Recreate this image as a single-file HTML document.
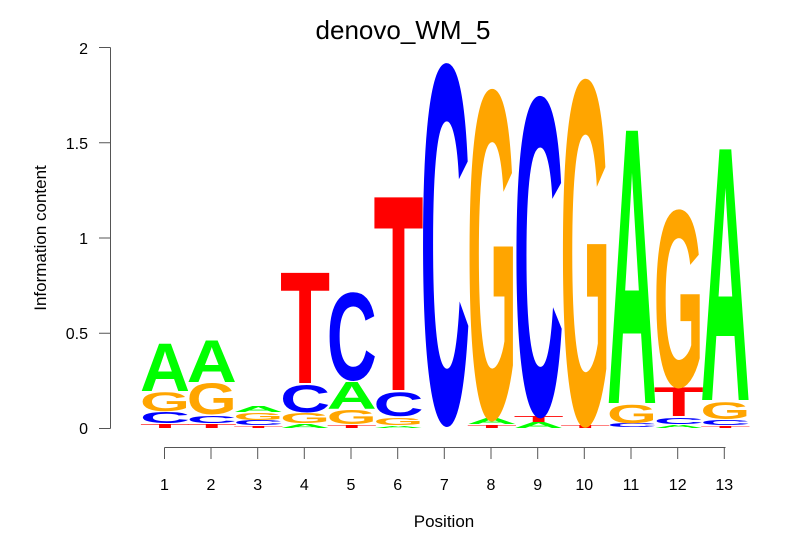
<!DOCTYPE html>
<html><head><meta charset="utf-8"><style>
html,body{margin:0;padding:0;background:#fff}
svg{display:block}
text{font-family:"Liberation Sans",sans-serif}
.L{font-weight:bold;font-size:100px}
</style></head><body>
<svg width="806" height="559" viewBox="0 0 806 559" xmlns="http://www.w3.org/2000/svg">
<text x="403" y="39" font-size="26" text-anchor="middle">denovo_WM_5</text>
<g stroke="#555" stroke-width="1" fill="none">
<path d="M110.5 47.5V428.5M99 47.5H110.5M99 142.7H110.5M99 238H110.5M99 333.2H110.5M99 428.5H110.5"/>
<path d="M164.5 447.5H725.5M164.5 447.5V459M211 447.5V459M257.7 447.5V459M304.3 447.5V459M351 447.5V459M397.7 447.5V459M444.3 447.5V459M491 447.5V459M537.7 447.5V459M584.3 447.5V459M631 447.5V459M677.7 447.5V459M724.3 447.5V459"/>
</g>
<g font-size="16" text-anchor="end">
<text x="88" y="54">2</text><text x="88" y="149">1.5</text><text x="88" y="244">1</text><text x="88" y="339">0.5</text><text x="88" y="434">0</text>
</g>
<text transform="translate(46,238) rotate(-90)" font-size="17" text-anchor="middle">Information content</text>
<g font-size="16" text-anchor="middle">
<text x="164.5" y="490">1</text><text x="211" y="490">2</text><text x="257.7" y="490">3</text><text x="304.3" y="490">4</text><text x="351" y="490">5</text><text x="397.7" y="490">6</text><text x="444.3" y="490">7</text><text x="491" y="490">8</text><text x="537.7" y="490">9</text><text x="584.3" y="490">10</text><text x="631" y="490">11</text><text x="677.7" y="490">12</text><text x="724.3" y="490">13</text>
</g>
<text x="444" y="527" font-size="17" text-anchor="middle">Position</text>
<g class="L">
<text fill="#f00" textLength="50" lengthAdjust="spacingAndGlyphs" transform="translate(140,428) scale(1,0.057)">T</text>
<text fill="#00f" textLength="50" lengthAdjust="spacingAndGlyphs" transform="translate(140,423) scale(1,0.157)">C</text>
<text fill="#ffa500" textLength="50" lengthAdjust="spacingAndGlyphs" transform="translate(140,411) scale(1,0.271)">G</text>
<text fill="#0f0" textLength="50" lengthAdjust="spacingAndGlyphs" transform="translate(140,391) scale(1,0.686)">A</text>
<text fill="#f00" textLength="50" lengthAdjust="spacingAndGlyphs" transform="translate(186.7,428) scale(1,0.057)">T</text>
<text fill="#00f" textLength="50" lengthAdjust="spacingAndGlyphs" transform="translate(186.7,423) scale(1,0.1)">C</text>
<text fill="#ffa500" textLength="50" lengthAdjust="spacingAndGlyphs" transform="translate(186.7,414) scale(1,0.443)">G</text>
<text fill="#0f0" textLength="50" lengthAdjust="spacingAndGlyphs" transform="translate(186.7,382) scale(1,0.6)">A</text>
<text fill="#f00" textLength="50" lengthAdjust="spacingAndGlyphs" transform="translate(233.4,428) scale(1,0.029)">T</text>
<text fill="#00f" textLength="50" lengthAdjust="spacingAndGlyphs" transform="translate(233.4,425) scale(1,0.071)">C</text>
<text fill="#ffa500" textLength="50" lengthAdjust="spacingAndGlyphs" transform="translate(233.4,420) scale(1,0.1)">G</text>
<text fill="#0f0" textLength="50" lengthAdjust="spacingAndGlyphs" transform="translate(233.4,412) scale(1,0.086)">A</text>
<text fill="#0f0" textLength="50" lengthAdjust="spacingAndGlyphs" transform="translate(280.1,428) scale(1,0.057)">A</text>
<text fill="#ffa500" textLength="50" lengthAdjust="spacingAndGlyphs" transform="translate(280.1,423) scale(1,0.143)">G</text>
<text fill="#00f" textLength="50" lengthAdjust="spacingAndGlyphs" transform="translate(280.1,412) scale(1,0.386)">C</text>
<text fill="#f00" textLength="50" lengthAdjust="spacingAndGlyphs" transform="translate(280.1,383) scale(1,1.6)">T</text>
<text fill="#f00" textLength="50" lengthAdjust="spacingAndGlyphs" transform="translate(326.8,428) scale(1,0.043)">T</text>
<text fill="#ffa500" textLength="50" lengthAdjust="spacingAndGlyphs" transform="translate(326.8,424) scale(1,0.2)">G</text>
<text fill="#0f0" textLength="50" lengthAdjust="spacingAndGlyphs" transform="translate(326.8,409) scale(1,0.386)">A</text>
<text fill="#00f" textLength="50" lengthAdjust="spacingAndGlyphs" transform="translate(326.8,380) scale(1,1.257)">C</text>
<text fill="#0f0" textLength="50" lengthAdjust="spacingAndGlyphs" transform="translate(373.5,428) scale(1,0.029)">A</text>
<text fill="#ffa500" textLength="50" lengthAdjust="spacingAndGlyphs" transform="translate(373.5,425) scale(1,0.1)">G</text>
<text fill="#00f" textLength="50" lengthAdjust="spacingAndGlyphs" transform="translate(373.5,416) scale(1,0.343)">C</text>
<text fill="#f00" textLength="50" lengthAdjust="spacingAndGlyphs" transform="translate(373.5,390) scale(1,2.8)">T</text>
<text fill="#00f" textLength="50" lengthAdjust="spacingAndGlyphs" transform="translate(420.2,422) scale(1,5.14)">C</text>
<text fill="#f00" textLength="50" lengthAdjust="spacingAndGlyphs" transform="translate(466.9,428) scale(1,0.043)">T</text>
<text fill="#0f0" textLength="50" lengthAdjust="spacingAndGlyphs" transform="translate(466.9,424) scale(1,0.086)">A</text>
<text fill="#ffa500" textLength="50" lengthAdjust="spacingAndGlyphs" transform="translate(466.9,417) scale(1,4.7)">G</text>
<text fill="#0f0" textLength="50" lengthAdjust="spacingAndGlyphs" transform="translate(513.6,428) scale(1,0.086)">A</text>
<text fill="#f00" textLength="50" lengthAdjust="spacingAndGlyphs" transform="translate(513.6,422) scale(1,0.086)">T</text>
<text fill="#00f" textLength="50" lengthAdjust="spacingAndGlyphs" transform="translate(513.6,414) scale(1,4.557)">C</text>
<text fill="#f00" textLength="50" lengthAdjust="spacingAndGlyphs" transform="translate(560.3,428) scale(1,0.043)">T</text>
<text fill="#ffa500" textLength="50" lengthAdjust="spacingAndGlyphs" transform="translate(560.3,423) scale(1,4.93)">G</text>
<text fill="#00f" textLength="50" lengthAdjust="spacingAndGlyphs" transform="translate(607,427) scale(1,0.057)">C</text>
<text fill="#ffa500" textLength="50" lengthAdjust="spacingAndGlyphs" transform="translate(607,423) scale(1,0.257)">G</text>
<text fill="#0f0" textLength="50" lengthAdjust="spacingAndGlyphs" transform="translate(607,403) scale(1,3.957)">A</text>
<text fill="#0f0" textLength="50" lengthAdjust="spacingAndGlyphs" transform="translate(653.7,428) scale(1,0.043)">A</text>
<text fill="#00f" textLength="50" lengthAdjust="spacingAndGlyphs" transform="translate(653.7,424) scale(1,0.086)">C</text>
<text fill="#f00" textLength="50" lengthAdjust="spacingAndGlyphs" transform="translate(653.7,416) scale(1,0.414)">T</text>
<text fill="#ffa500" textLength="50" lengthAdjust="spacingAndGlyphs" transform="translate(653.7,386) scale(1,2.529)">G</text>
<text fill="#f00" textLength="50" lengthAdjust="spacingAndGlyphs" transform="translate(700.4,428) scale(1,0.029)">T</text>
<text fill="#00f" textLength="50" lengthAdjust="spacingAndGlyphs" transform="translate(700.4,425) scale(1,0.071)">C</text>
<text fill="#ffa500" textLength="50" lengthAdjust="spacingAndGlyphs" transform="translate(700.4,419) scale(1,0.243)">G</text>
<text fill="#0f0" textLength="50" lengthAdjust="spacingAndGlyphs" transform="translate(700.4,400) scale(1,3.643)">A</text>
</g>
</svg>
</body></html>
